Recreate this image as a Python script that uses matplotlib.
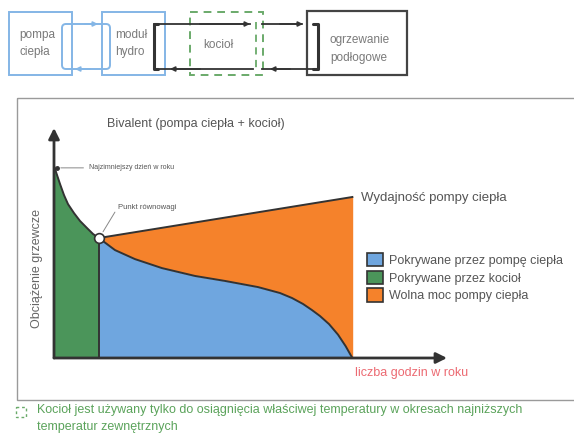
import numpy as np
import matplotlib
matplotlib.use("Agg")
import matplotlib.pyplot as plt
from matplotlib.patches import Rectangle, FancyBboxPatch, Patch

plt.rcParams['font.family'] = ['Liberation Sans', 'DejaVu Sans']

# load duration curve (hours, kW)
green_hours = [0, 67, 134, 223, 312, 446, 580, 736, 870, 1000]
green_load = [10.02, 9.55, 9.08, 8.50, 8.03, 7.56, 7.15, 6.78, 6.47, 6.26]

blue_hours = [1000, 1360, 1805, 2407, 3143, 3812, 4547, 5037, 5305, 5550, 5751, 5929,
              6130, 6330, 6500, 6650]
blue_load = [6.26, 5.63, 5.16, 4.69, 4.28, 4.02, 3.70, 3.39, 3.13, 2.82, 2.50, 2.19,
             1.77, 1.22, 0.62, 0.0]

# heat pump capacity line
hp_hours = [1000, 6650]
hp_load = [6.26, 8.40]

legend_labels = ["Pokrywane przez pompę ciepła", "Pokrywane przez kocioł", "Wolna moc pompy ciepła"]

BLUE = "#6fa6df"
GREEN = "#4b955a"
ORANGE = "#f5822b"
DARK = "#333333"
GRAY = "#666666"

fig = plt.figure(figsize=(5.74, 4.43), dpi=100)

# overlay in pixel coordinates for the diagram and frame
ov = fig.add_axes([0, 0, 1, 1], zorder=0)
ov.set_xlim(0, 574)
ov.set_ylim(443, 0)
ov.axis("off")


def arrow(x0, y0, x1, y1, color):
    ov.annotate("", xy=(x1, y1), xytext=(x0, y0),
                arrowprops=dict(arrowstyle="-|>", color=color, lw=1.2,
                                mutation_scale=7, shrinkA=0, shrinkB=0))


# top diagram boxes
lb = "#84b6e6"
ov.add_patch(Rectangle((9, 12), 63, 63, fill=False, ec=lb, lw=1.4))
ov.add_patch(Rectangle((102, 12), 63, 63, fill=False, ec=lb, lw=1.4))
ov.add_patch(Rectangle((190, 12), 73, 63, fill=False, ec="#6aaa6a", lw=1.4, ls=(0, (4, 3))))
ov.add_patch(Rectangle((307, 11), 100, 64, fill=False, ec="#444444", lw=1.6))

# blue loop heat pump <-> hydro module
ov.add_patch(FancyBboxPatch((62, 24), 48, 45, boxstyle="round,pad=0,rounding_size=4",
                            fill=False, ec=lb, lw=1.4))
arrow(85, 24, 98, 24, lb)
arrow(90, 69, 75, 69, lb)

# black loop hydro -> floor heating
ov.plot([158, 154, 154, 158], [24, 24, 69, 69], color="#333333", lw=2.2, solid_capstyle="round")
ov.plot([154, 250], [24, 24], color="#333333", lw=1.3)
arrow(200, 24, 250, 24, "#333333")
ov.plot([262, 302], [24, 24], color="#333333", lw=1.3)
arrow(280, 24, 303, 24, "#333333")
ov.plot([313, 318, 318, 313], [24, 24, 69, 69], color="#333333", lw=2.2, solid_capstyle="round")
ov.plot([318, 262], [69, 69], color="#333333", lw=1.3)
arrow(290, 69, 270, 69, "#333333")
ov.plot([253, 160], [69, 69], color="#333333", lw=1.3)
arrow(200, 69, 170, 69, "#333333")
ov.plot([256, 256], [22, 72], color="#6aaa6a", lw=1.3, ls=(0, (4, 3)))

dtxt = dict(fontsize=8.5, color="#7a7a7a", va="center", ha="left")
ov.text(19, 35, "pompa", **dtxt)
ov.text(19, 52, "ciepła", **dtxt)
ov.text(115, 35, "moduł", **dtxt)
ov.text(115, 52, "hydro", **dtxt)
ov.text(203, 45, "kocioł", **dtxt)
ov.text(330, 40, "ogrzewanie", **dtxt)
ov.text(330, 58, "podłogowe", **dtxt)

# chart frame
ov.add_patch(Rectangle((17, 98), 570, 302, fill=False, ec="#9a9a9a", lw=1.0))
ov.text(107, 124, "Bivalent (pompa ciepła + kocioł)", fontsize=9, color="#555555", va="center")
ov.text(37, 268, "Obciążenie grzewcze", fontsize=9, color=GRAY, rotation=90, ha="center", va="center")
ov.text(355, 373, "liczba godzin w roku", fontsize=9, color="#ec6a72", va="center")

# footnote
ov.add_patch(Rectangle((16, 407), 10, 10, fill=False, ec="#6aaa6a", lw=1.0, ls=(0, (2, 2))))
ftxt = dict(fontsize=9, color="#5ba35b", va="center")
ov.text(37, 410, "Kocioł jest używany tylko do osiągnięcia właściwej temperatury w okresach najniższych", **ftxt)
ov.text(37, 427, "temperatur zewnętrznych", **ftxt)

# main chart
ax = fig.add_axes([54 / 574, (443 - 358) / 443, (447 - 54) / 574, (358 - 128) / 443], zorder=1)
ax.patch.set_alpha(0)
ax.set_xlim(0, 8760)
ax.set_ylim(0, 12)
for s in ax.spines.values():
    s.set_visible(False)
ax.set_xticks([])
ax.set_yticks([])

ax.fill_between(green_hours, 0, green_load, color=GREEN, lw=0)
ax.fill_between(blue_hours, 0, blue_load, color=BLUE, lw=0)
ax.fill(np.r_[hp_hours, blue_hours[::-1]], np.r_[hp_load, blue_load[::-1]], color=ORANGE, lw=0)
ax.plot([hp_hours[1], hp_hours[1]], [0, hp_load[1]], color=ORANGE, lw=1)

ax.plot(green_hours, green_load, color=DARK, lw=1.4)
ax.plot(blue_hours, blue_load, color=DARK, lw=1.4)
ax.plot(hp_hours, hp_load, color=DARK, lw=1.4)
ax.plot([blue_hours[0], blue_hours[0]], [0, blue_load[0]], color=DARK, lw=1.4)
ax.plot(blue_hours[0], blue_load[0], "o", ms=7, mfc="white", mec=DARK, mew=1.2, zorder=5)
ax.plot(green_hours[0] + 60, green_load[0] - 0.1, "o", ms=2.5, color=DARK, zorder=5)

# axes arrows
ax.annotate("", xy=(1, 0), xytext=(0, 0), xycoords="axes fraction",
            arrowprops=dict(arrowstyle="-|>", color=DARK, lw=2, mutation_scale=16, shrinkA=0, shrinkB=0))
ax.annotate("", xy=(0, 1), xytext=(0, 0), xycoords="axes fraction",
            arrowprops=dict(arrowstyle="-|>", color=DARK, lw=2, mutation_scale=16, shrinkA=0, shrinkB=0))

# annotations
ax.annotate("Najzimniejszy dzień w roku", xy=(green_hours[0] + 90, green_load[0] - 0.1),
            xytext=(780, green_load[0] - 0.1), fontsize=5, color="#555555", va="center",
            arrowprops=dict(arrowstyle="-", color="#888888", lw=0.7, shrinkA=2, shrinkB=2))
ax.annotate("Punkt równowagi", xy=(blue_hours[0] + 60, blue_load[0] + 0.2),
            xytext=(1420, 7.85), fontsize=5.5, color="#555555", va="center",
            arrowprops=dict(arrowstyle="-", color="#888888", lw=0.7, shrinkA=0, shrinkB=2,
                            relpos=(0, 0.5)))
ax.text(hp_hours[1] + 200, hp_load[1] - 0.05, "Wydajność pompy ciepła", fontsize=9.5, color="#555555", va="center")

handles = [Patch(fc=BLUE, ec=DARK, lw=1.2), Patch(fc=GREEN, ec=DARK, lw=1.2), Patch(fc=ORANGE, ec=DARK, lw=1.2)]
fig.legend(handles, legend_labels, loc="upper left", bbox_to_anchor=(361 / 574, 1 - 247 / 443),
           frameon=False, fontsize=9, borderpad=0, handlelength=1.25, handleheight=1.25,
           handletextpad=0.45, labelspacing=0.3, labelcolor="#555555")

fig.savefig("out.png", dpi=100)
